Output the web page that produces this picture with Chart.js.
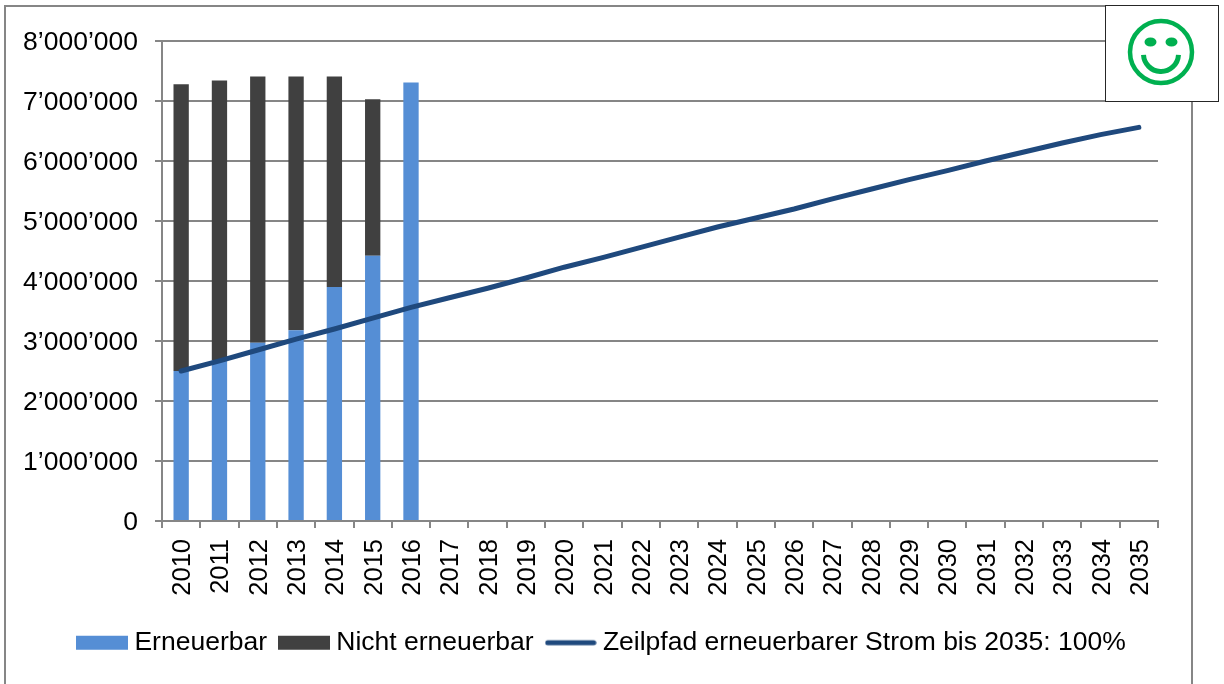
<!DOCTYPE html>
<html><head><meta charset="utf-8">
<style>html,body{margin:0;padding:0;background:#fff;overflow:hidden}#wrap{width:1224px;height:684px;position:relative}</style>
<script src="https://cdn.jsdelivr.net/npm/chart.js@4"></script></head>
<body><div id="wrap"><canvas id="c" width="1224" height="684"></canvas></div>
<script>
const years = ['2010','2011','2012','2013','2014','2015','2016','2017','2018','2019','2020','2021','2022','2023','2024','2025','2026','2027','2028','2029','2030','2031','2032','2033','2034','2035'];
const erneuerbar = [2500000,2680000,2970000,3180000,3900000,4420000,7310000];
const nichtErneuerbar = [4780000,4660000,4440000,4230000,3510000,2610000,0];
const zielpfad = [2500000,2670000,2850000,3030000,3200000,3380000,3560000,3720000,3880000,4050000,4230000,4390000,4560000,4730000,4900000,5050000,5200000,5370000,5530000,5690000,5840000,6000000,6150000,6300000,6440000,6560000];
const seriesNames = ['Erneuerbar','Nicht erneuerbar','Zeilpfad erneuerbarer Strom bis 2035: 100%'];
const colors = {blue:'#558ED5',dark:'#404040',line:'#1F497D',grid:'#868686',green:'#00B050'};
const FONT = 'Liberation Sans, Arial, sans-serif';

function swatch(color,isLine){
  const c=document.createElement('canvas');c.width=52;c.height=16;
  const x=c.getContext('2d');
  if(isLine){x.strokeStyle=color;x.lineWidth=5;x.lineCap='round';x.beginPath();x.moveTo(3,8);x.lineTo(49,8);x.stroke();}
  else{x.fillStyle=color;x.fillRect(0,1,52,14);}
  return c;
}
const decor={id:'decor',
  afterLayout(ch){ if(ch.legend){ch.legend.left+=25.5;ch.legend.right+=25.5;} },
  beforeDraw(ch){
    const g=ch.ctx;g.save();g.strokeStyle=colors.grid;g.lineWidth=2;
    g.beginPath();g.moveTo(5,690);g.lineTo(5,6);g.lineTo(1192,6);g.lineTo(1192,690);g.stroke();g.restore();
  },
  afterDraw(ch){
    const g=ch.ctx;g.save();
    g.fillStyle='#fff';g.strokeStyle='#262626';g.lineWidth=1;
    g.fillRect(1105,5,114,97);g.strokeRect(1105.5,5.5,113,96);
    g.strokeStyle=colors.green;g.fillStyle=colors.green;g.lineWidth=4.5;
    g.beginPath();g.arc(1161,52,31,0,Math.PI*2);g.stroke();
    g.beginPath();g.ellipse(1150.5,42,6,4.5,0,0,Math.PI*2);g.fill();
    g.beginPath();g.ellipse(1171.5,42,6,4.5,0,0,Math.PI*2);g.fill();
    g.lineWidth=5;g.beginPath();g.arc(1161,54,17.5,0.05,Math.PI-0.05);g.stroke();
    g.restore();
  }
};
new Chart(document.getElementById('c'),{
  data:{labels:years,datasets:[
    {type:'bar',label:seriesNames[0],data:erneuerbar,backgroundColor:colors.blue,stack:'s',order:1,barPercentage:0.4,categoryPercentage:1},
    {type:'bar',label:seriesNames[1],data:nichtErneuerbar,backgroundColor:colors.dark,stack:'s',order:2,barPercentage:0.4,categoryPercentage:1},
    {type:'line',label:seriesNames[2],data:zielpfad,borderColor:colors.line,backgroundColor:colors.line,borderWidth:5,borderCapStyle:'round',pointRadius:0,stack:'l',order:0,tension:0}
  ]},
  options:{
    responsive:false,animation:false,
    layout:{padding:{left:0,right:66,top:41,bottom:18}},
    plugins:{
      tooltip:{enabled:false},
      legend:{position:'bottom',labels:{
        usePointStyle:true,pointStyleWidth:38,boxHeight:16,padding:18,color:'#000',
        font:{family:FONT,size:26.5},
        generateLabels(ch){
          return ch.data.datasets.map((d,i)=>({text:d.label,datasetIndex:i,fontColor:'#000',lineWidth:0,
            pointStyle:swatch(i===2?colors.line:(i===0?colors.blue:colors.dark),i===2)}));
        }
      }}
    },
    scales:{
      x:{stacked:true,offset:true,
        grid:{display:true,offset:true,drawOnChartArea:false,drawTicks:true,tickLength:7,color:colors.grid,lineWidth:2},
        border:{display:true,color:colors.grid,width:2},
        ticks:{color:'#000',font:{family:FONT,size:25.5},minRotation:90,maxRotation:90,autoSkip:false,padding:11,labelOffset:2},
        afterFit(s){s.height=90.5;}
      },
      y:{stacked:true,min:0,max:8000000,
        grid:{color:colors.grid,lineWidth:2,tickLength:7},
        border:{display:true,color:colors.grid,width:2},
        ticks:{color:'#000',font:{family:FONT,size:26.5},stepSize:1000000,padding:17,labelOffset:1.5,
          callback(v){return String(v).replace(/\B(?=(\d{3})+(?!\d))/g,'’');}},
        afterFit(s){s.width=162;}
      }
    }
  },
  plugins:[decor]
});
</script></body></html>
